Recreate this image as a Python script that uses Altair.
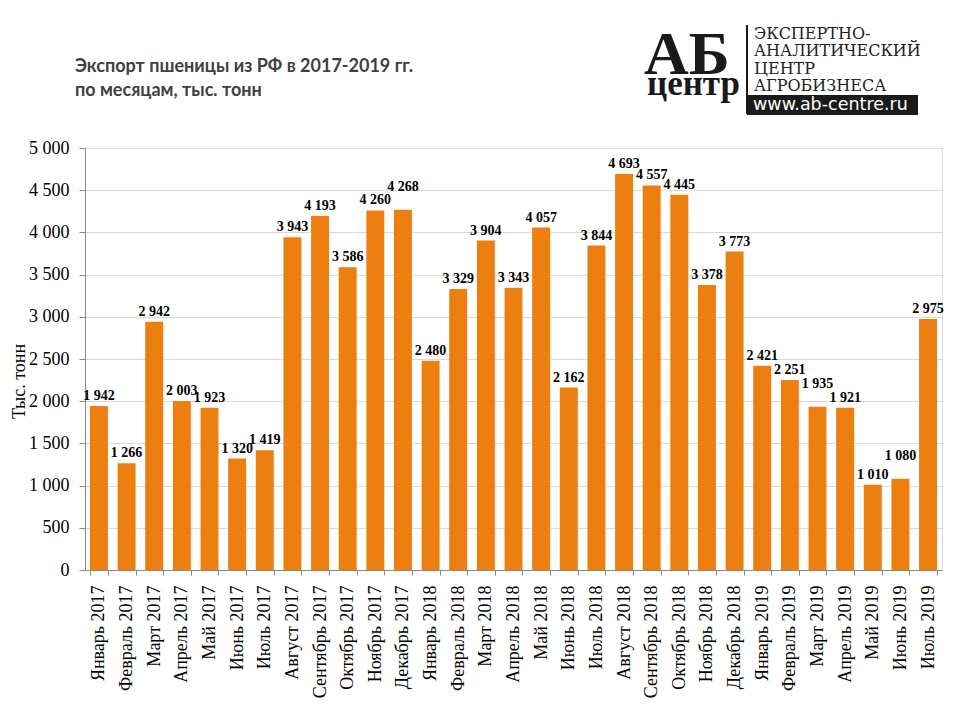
import altair as alt
import pandas as pd

months = ["Январь", "Февраль", "Март", "Апрель", "Май", "Июнь", "Июль",
          "Август", "Сентябрь", "Октябрь", "Ноябрь", "Декабрь"]
periods = [f"{m} 2017" for m in months] + [f"{m} 2018" for m in months] + \
          [f"{m} 2019" for m in months[:7]]
values = [1942, 1266, 2942, 2003, 1923, 1320, 1419, 3943, 4193, 3586, 4260, 4268,
          2480, 3329, 3904, 3343, 4057, 2162, 3844, 4693, 4557, 4445, 3378, 3773,
          2421, 2251, 1935, 1921, 1010, 1080, 2975]

title_lines = ["Экспорт пшеницы из РФ в 2017-2019 гг.", "по месяцам, тыс. тонн"]
y_title = "Тыс. тонн"
logo_lines = ["ЭКСПЕРТНО-", "АНАЛИТИЧЕСКИЙ", "ЦЕНТР", "АГРОБИЗНЕСА"]
logo_url = "www.ab-centre.ru"

def fmt(v):
    return f"{v:,}".replace(",", " ")

# lift label of the higher bar in a pair of neighbours with nearly equal values
lift = [0] * len(values)
for i in range(len(values) - 1):
    if abs(values[i] - values[i + 1]) < 75:
        j = i if values[i] >= values[i + 1] else i + 1
        lift[j] = 1

df = pd.DataFrame({
    "period": periods,
    "value": values,
    "label": [fmt(v) for v in values],
    "lift": lift,
})

W, H = 857, 422
ORANGE = "#EC7F0F"

x_enc = alt.X("period:N", sort=periods, title=None,
              scale=alt.Scale(paddingInner=0.35, paddingOuter=0.18),
              axis=alt.Axis(labelAngle=-90, labelFont="Liberation Serif",
                            labelFontSize=18, labelColor="#000",
                            labelAlign="right", labelBaseline="middle",
                            labelPadding=10,
                            tickBand="extent", tickSize=5, tickColor="#888",
                            domainColor="#888", grid=False))
y_scale = alt.Scale(domain=[0, 5000])

bars = alt.Chart(df).mark_bar(color=ORANGE).encode(
    x=x_enc,
    y=alt.Y("value:Q", scale=y_scale, title=y_title,
            axis=alt.Axis(values=list(range(0, 5001, 500)),
                          labelExpr="replace(format(datum.value, ','), ',', ' ')",
                          labelFont="Liberation Serif", labelFontSize=18,
                          labelColor="#000", labelPadding=10,
                          tickSize=6, tickColor="#888", domainColor="#888",
                          gridColor="#d9d9d9",
                          titleFont="Liberation Serif", titleFontSize=18,
                          titleFontWeight="normal", titleColor="#000",
                          titlePadding=0, titleY=233)),
)

label_style = dict(font="Liberation Serif", fontSize=14, fontWeight="bold",
                   color="#000", baseline="bottom")
labels_normal = alt.Chart(df).transform_filter("datum.lift == 0").mark_text(
    dy=-3, **label_style
).encode(
    x=alt.X("period:N", sort=periods),
    y=alt.Y("value:Q", scale=y_scale),
    text="label:N",
)
labels_lifted = alt.Chart(df).transform_filter("datum.lift == 1").mark_text(
    dy=-16, **label_style
).encode(
    x=alt.X("period:N", sort=periods),
    y=alt.Y("value:Q", scale=y_scale),
    text="label:N",
)

# header texts and logo (decoration, placed in pixels above the plot)
one = pd.DataFrame({"t": [0]})
base = alt.Chart(one)
title_layers = []
for k, line in enumerate(title_lines):
    title_layers.append(base.mark_text(text=line, font="Lato", fontSize=18,
                                       fontWeight="bold", color="#404040",
                                       align="left", baseline="alphabetic").encode(
        x=alt.value(-10), y=alt.value(-76 + 24 * k)))

ab = base.mark_text(text="АБ", font="Liberation Serif", fontSize=62,
                    fontWeight="bold", color="#1a1a1a", align="left",
                    baseline="alphabetic").encode(
    x=alt.value(559), y=alt.value(-74))
centr = base.mark_text(text="центр", font="Liberation Serif", fontSize=35,
                       fontWeight="bold", color="#1a1a1a", align="left",
                       baseline="alphabetic").encode(
    x=alt.value(562), y=alt.value(-53))
vline = base.mark_rule(color="#1a1a1a", strokeWidth=2).encode(
    x=alt.value(662), y=alt.value(-123), y2=alt.value(-34))
txt_layers = []
for k, line in enumerate(logo_lines):
    txt_layers.append(base.mark_text(text=line, font="DejaVu Serif",
                                     fontSize=16, color="#222", align="left",
                                     baseline="alphabetic").encode(
        x=alt.value(669), y=alt.value(-109 + 17.3 * k)))
box = base.mark_rect(color="#1a1a1a").encode(
    x=alt.value(662), x2=alt.value(833), y=alt.value(-53), y2=alt.value(-33))
url = base.mark_text(text=logo_url, font="DejaVu Sans", fontSize=17.5,
                     color="#fff", align="left", baseline="middle").encode(
    x=alt.value(668), y=alt.value(-43))

chart = alt.layer(bars, labels_normal, labels_lifted, *title_layers, ab, centr,
                  vline, *txt_layers, box, url).properties(
    width=W, height=H,
    autosize=alt.AutoSizeParams(type="none"),
    padding={"left": 77, "top": 140, "right": 10, "bottom": 142},
).configure_view(stroke=None).configure(background="white")

chart.save("out.html", embed_options={"renderer": "svg", "actions": False})
